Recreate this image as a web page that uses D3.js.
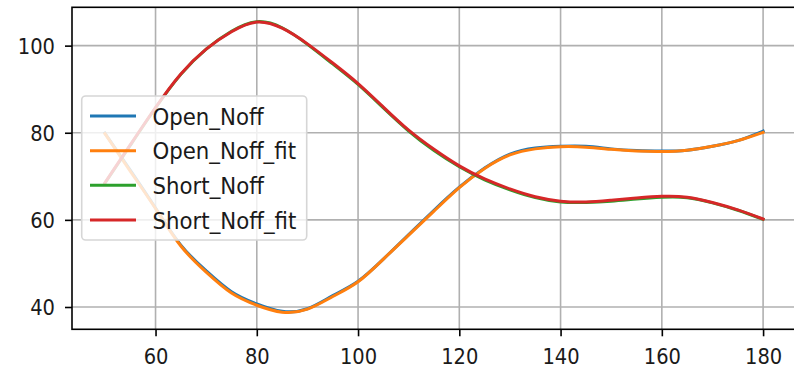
<!DOCTYPE html>
<html>
<head>
<meta charset="utf-8">
<script src="https://cdn.jsdelivr.net/npm/d3@7"></script>
<style>
  html, body { margin: 0; padding: 0; background: #ffffff; }
  svg { display: block; }
  text { font-family: "DejaVu Sans", sans-serif; fill: #1a1a1a; }
</style>
</head>
<body>
<svg id="chart" width="794" height="370"></svg>
<script>
// ---------- data ----------
const xValues = [50, 55, 60, 65, 70, 75, 80, 85, 90, 95, 100, 105, 110, 115, 120, 125, 130, 135, 140, 145, 150, 155, 160, 165, 170, 175, 180];

const openNoff = [79.9, 71.4, 62.7, 54.2, 48.3, 43.5, 40.7, 39.0, 39.6, 42.6, 45.9, 51.0, 56.6, 62.2, 67.5, 71.9, 75.1, 76.5, 76.9, 76.9, 76.3, 75.9, 75.8, 76.0, 76.9, 78.2, 80.4];
const openNoffFit = [79.8, 71.2, 62.6, 54.0, 48.0, 43.2, 40.4, 38.8, 39.5, 42.4, 45.8, 51.0, 56.5, 62.0, 67.4, 71.8, 74.9, 76.3, 76.8, 76.7, 76.2, 75.8, 75.7, 76.0, 76.9, 78.2, 80.1];
const shortNoff = [68.4, 77.1, 85.7, 93.4, 99.2, 103.3, 105.5, 104.1, 100.3, 95.8, 91.1, 85.7, 80.4, 75.9, 72.2, 69.2, 66.9, 65.1, 64.1, 64.0, 64.3, 64.8, 65.2, 65.1, 63.9, 62.2, 60.1];
const shortNoffFit = [68.5, 77.2, 85.8, 93.5, 99.2, 103.2, 105.4, 104.0, 100.4, 96.0, 91.3, 85.9, 80.6, 76.2, 72.4, 69.4, 67.1, 65.3, 64.3, 64.1, 64.5, 65.0, 65.4, 65.2, 64.0, 62.3, 60.2];

const seriesNames = ["Open_Noff", "Open_Noff_fit", "Short_Noff", "Short_Noff_fit"];
const seriesColors = ["#1f77b4", "#ff7f0e", "#2ca02c", "#d62728"];
const seriesValues = [openNoff, openNoffFit, shortNoff, shortNoffFit];

const xTicks = [60, 80, 100, 120, 140, 160, 180];
const yTicks = [40, 60, 80, 100];

// ---------- layout ----------
const svg = d3.select("#chart");
const mLeft = 72, mRight = 796, mTop = 7.3, mBottom = 329.3;
const tickStretch = 1.12, legendStretch = 1.07;

const x = d3.scaleLinear().domain([43.5, 186.5]).range([mLeft, mRight]);
const y = d3.scaleLinear().domain([34.88, 108.8]).range([mBottom, mTop]);

// grid
const grid = svg.append("g");
grid.selectAll(".gx").data(xTicks).enter().append("line")
  .attr("x1", d => x(d)).attr("x2", d => x(d))
  .attr("y1", mTop).attr("y2", mBottom)
  .attr("stroke", "#b0b0b0").attr("stroke-width", 1.6);
grid.selectAll(".gy").data(yTicks).enter().append("line")
  .attr("x1", mLeft).attr("x2", mRight)
  .attr("y1", d => y(d)).attr("y2", d => y(d))
  .attr("stroke", "#b0b0b0").attr("stroke-width", 1.6);

// lines
const line = d3.line().curve(d3.curveNatural);
seriesValues.forEach((vals, i) => {
  svg.append("path")
    .datum(xValues.map((xv, j) => [x(xv), y(vals[j])]))
    .attr("d", line)
    .attr("fill", "none")
    .attr("stroke", seriesColors[i])
    .attr("stroke-width", 3)
    .attr("stroke-linecap", "square")
    .attr("stroke-linejoin", "round");
});

// spines
svg.append("rect")
  .attr("x", mLeft).attr("y", mTop)
  .attr("width", mRight - mLeft).attr("height", mBottom - mTop)
  .attr("fill", "none").attr("stroke", "#000").attr("stroke-width", 1.6);

// axes ticks
const xAxis = d3.axisBottom(x).tickValues(xTicks).tickSize(7).tickPadding(7).tickFormat(d3.format("d"));
const gx = svg.append("g").attr("transform", `translate(0,${mBottom})`).call(xAxis);
gx.select(".domain").remove();
gx.selectAll(".tick line").attr("stroke", "#000").attr("stroke-width", 1.6);
gx.selectAll(".tick text")
  .attr("font-size", 19.5).attr("font-family", "DejaVu Sans").attr("fill", "#1a1a1a")
  .attr("dy", 0).attr("y", 35 / tickStretch)
  .attr("transform", `scale(1,${tickStretch})`);

const yAxis = d3.axisLeft(y).tickValues(yTicks).tickSize(7).tickPadding(10).tickFormat(d3.format("d"));
const gy = svg.append("g").attr("transform", `translate(${mLeft},0)`).call(yAxis);
gy.select(".domain").remove();
gy.selectAll(".tick line").attr("stroke", "#000").attr("stroke-width", 1.6);
gy.selectAll(".tick text")
  .attr("font-size", 19.5).attr("font-family", "DejaVu Sans").attr("fill", "#1a1a1a")
  .attr("dy", 0).attr("y", 7.6 / tickStretch)
  .attr("transform", `scale(1,${tickStretch})`);

// legend
const lg = svg.append("g");
lg.append("rect")
  .attr("x", 81.7).attr("y", 96).attr("width", 225).attr("height", 144)
  .attr("rx", 4).attr("ry", 4)
  .attr("fill", "#ffffff").attr("fill-opacity", 0.8)
  .attr("stroke", "#d6d6d6").attr("stroke-width", 1.6);
seriesNames.forEach((name, i) => {
  const cy = 116 + i * 34.67;
  lg.append("line")
    .attr("x1", 90).attr("x2", 136).attr("y1", cy).attr("y2", cy)
    .attr("stroke", seriesColors[i]).attr("stroke-width", 3);
  lg.append("g").attr("transform", `translate(152.5,${cy})`)
    .append("text")
    .attr("x", 0).attr("y", 8.5 / legendStretch)
    .attr("transform", `scale(1,${legendStretch})`)
    .attr("font-size", 21.3)
    .text(name);
});
</script>
</body>
</html>
